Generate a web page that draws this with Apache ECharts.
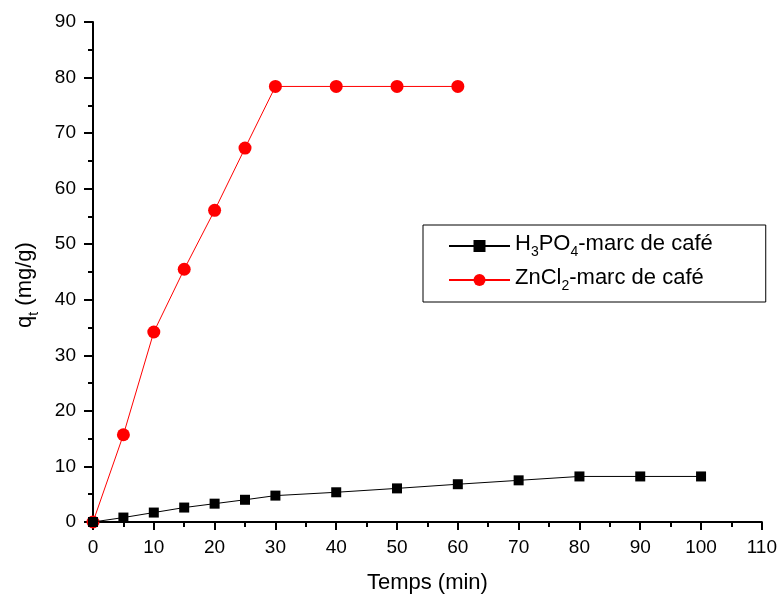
<!DOCTYPE html>
<html><head><meta charset="utf-8">
<script src="https://cdn.jsdelivr.net/npm/echarts@6/dist/echarts.min.js"></script>
<style>html,body{margin:0;padding:0;background:#fff}#c{width:780px;height:599px}</style>
</head><body><div id="c"></div>
<script>
var timeH3PO4 = [0, 5, 10, 15, 20, 25, 30, 40, 50, 60, 70, 80, 90, 100];
var qH3PO4 = [0, 0.8, 1.7, 2.6, 3.3, 4.0, 4.75, 5.35, 6.05, 6.8, 7.5, 8.2, 8.2, 8.2];
var timeZnCl2 = [0, 5, 10, 15, 20, 25, 30, 40, 50, 60];
var qZnCl2 = [0, 15.7, 34.2, 45.5, 56.1, 67.3, 78.4, 78.4, 78.4, 78.4];
var seriesNames = ['H3PO4', 'ZnCl2'];

function pairs(xs, ys) { return xs.map(function (x, i) { return [x, ys[i]]; }); }
var font = 'Liberation Sans, Arial, sans-serif';
var chart = echarts.init(document.getElementById('c'));
chart.setOption({
  animation: false,
  backgroundColor: '#fff',
  grid: { left: 93, right: 16, top: 22, bottom: 77, containLabel: false },
  legend: {
    orient: 'vertical',
    left: 423, top: 225,
    padding: [8, 53, 9, 25],
    itemGap: 8,
    itemWidth: 61, itemHeight: 15,
    borderColor: '#000', borderWidth: 1,
    textStyle: { fontFamily: font, fontSize: 22, color: '#000',
      rich: {
        n: { fontFamily: font, fontSize: 22, color: '#000', verticalAlign: 'bottom', padding: [0, 0, 4, 0] },
        s: { fontFamily: font, fontSize: 14, color: '#000', verticalAlign: 'bottom' }
      }
    },
    formatter: function (name) {
      if (name === 'H3PO4') return '{n|H}{s|3}{n|PO}{s|4}{n|-marc de café}';
      return '{n|ZnCl}{s|2}{n|-marc de café}';
    },
    data: seriesNames
  },
  xAxis: {
    type: 'value', min: 0, max: 110, interval: 10,
    name: 'Temps (min)', nameLocation: 'middle', nameGap: 50,
    nameTextStyle: { fontFamily: font, fontSize: 22, color: '#000' },
    axisLine: { show: true, lineStyle: { color: '#000', width: 2 } },
    axisTick: { show: true, inside: false, length: 8, lineStyle: { color: '#000', width: 2 } },
    minorTick: { show: true, splitNumber: 2, length: 5, lineStyle: { color: '#000', width: 2 } },
    axisLabel: { fontFamily: font, fontSize: 19, color: '#000', margin: 16 },
    splitLine: { show: false }
  },
  yAxis: {
    type: 'value', min: 0, max: 90, interval: 10,
    name: '{n|q}{s|t}{n| (mg/g)}', nameLocation: 'middle', nameGap: 52, nameRotate: 90,
    nameTextStyle: { fontFamily: font, fontSize: 22, color: '#000', padding: [0, 26, 0, 0],
      rich: {
        n: { fontFamily: font, fontSize: 22, color: '#000', verticalAlign: 'bottom', padding: [0, 0, 5, 0] },
        s: { fontFamily: font, fontSize: 14, color: '#000', verticalAlign: 'bottom' }
      }
    },
    axisLine: { show: true, lineStyle: { color: '#000', width: 2 } },
    axisTick: { show: true, inside: false, length: 9, lineStyle: { color: '#000', width: 2 } },
    minorTick: { show: true, splitNumber: 2, length: 5, lineStyle: { color: '#000', width: 2 } },
    axisLabel: { fontFamily: font, fontSize: 19, color: '#000', margin: 17 },
    splitLine: { show: false }
  },
  series: [
    {
      name: 'H3PO4', type: 'line', data: pairs(timeH3PO4, qH3PO4),
      symbol: 'rect', symbolSize: 10, showAllSymbol: true,
      lineStyle: { color: '#000', width: 1 },
      itemStyle: { color: '#000' }, z: 3
    },
    {
      name: 'ZnCl2', type: 'line', data: pairs(timeZnCl2, qZnCl2),
      symbol: 'circle', symbolSize: 13, showAllSymbol: true,
      lineStyle: { color: '#ff0000', width: 1 },
      itemStyle: { color: '#ff0000' }, z: 2
    }
  ]
});
</script></body></html>
